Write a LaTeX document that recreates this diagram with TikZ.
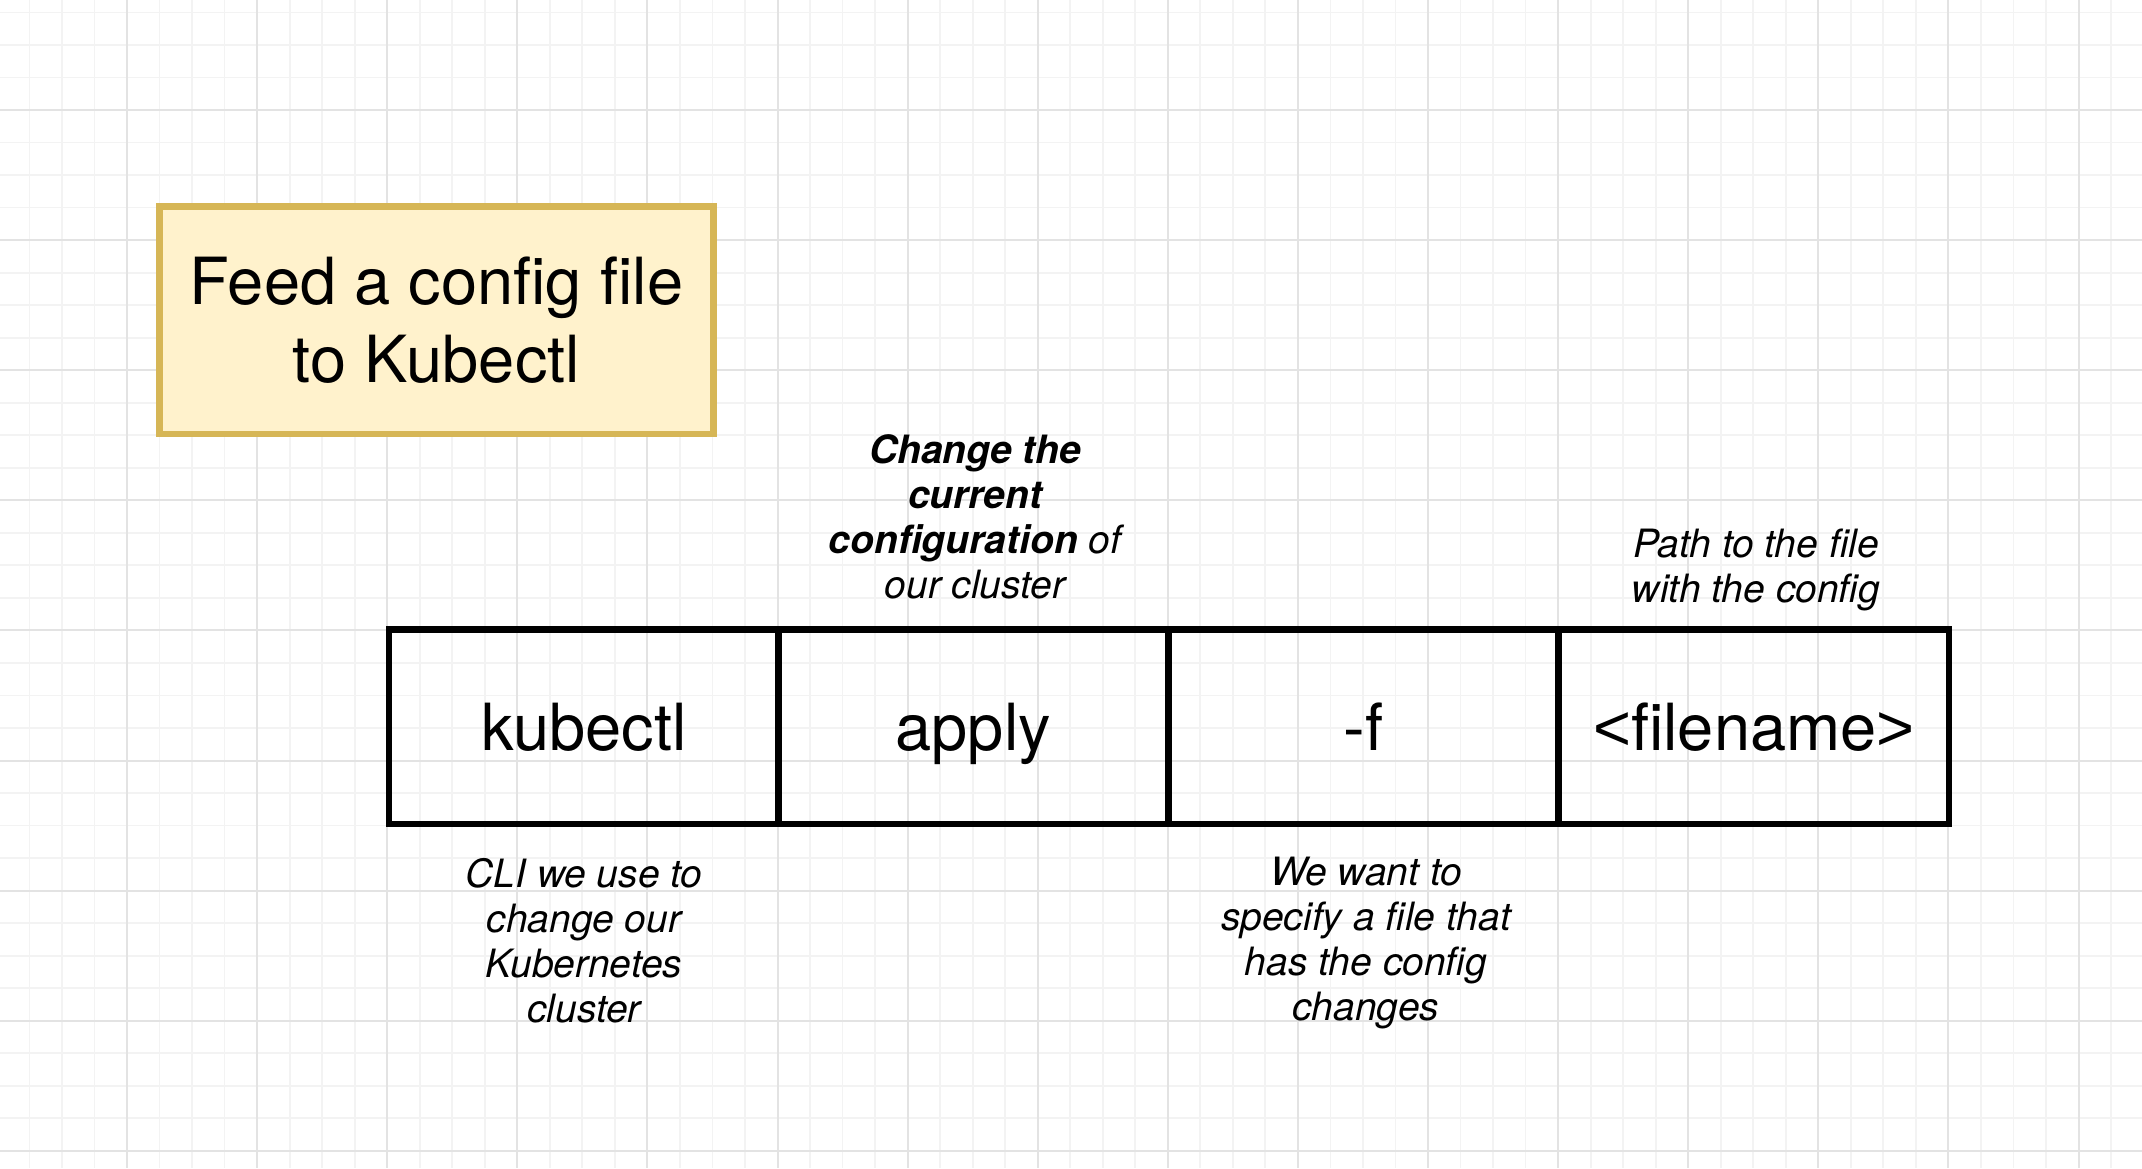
\documentclass[tikz,border=0pt]{standalone}
\usepackage{fontspec}
\setmainfont{TeX Gyre Heros}
\newfontfamily\arialfont{Liberation Sans}
\definecolor{gridminor}{HTML}{F3F3F3}
\definecolor{gridmajor}{HTML}{E3E3E3}
\definecolor{notefill}{HTML}{FFF2CC}
\definecolor{notedraw}{HTML}{D6B656}
\begin{document}
\begin{tikzpicture}[x=0.5pt,y=-0.5pt,
  minorline/.style={draw=gridminor, line width=0.9pt},
  majorline/.style={draw=gridmajor, line width=1pt},
  cmdbox/.style={draw=black, line width=3.25pt, minimum width=195.2pt,
    minimum height=97.25pt, inner sep=0pt, text height=23.7pt, text depth=0pt,
    font=\fontsize{32.5}{39}\selectfont},
  titlebox/.style={draw=notedraw, fill=notefill, line width=3.25pt,
    minimum width=277pt, minimum height=113.65pt, inner sep=0pt,
    align=center, font=\fontsize{32.5}{39}\selectfont},
  note/.style={align=center, inner sep=0pt, anchor=base,
    font=\fontsize{19.5}{22.5}\selectfont\itshape}]
\useasboundingbox (0,0) rectangle (2142,1168);
\fill[white] (0,0) rectangle (2142,1168);
\begin{scope}
\clip (0,0) rectangle (2142,1168);
\foreach \i in {0,...,66} {\draw[minorline] ({-3.1+32.525*\i},0) -- ({-3.1+32.525*\i},1168);}
\foreach \i in {0,...,36} {\draw[minorline] (0,{-20.1+32.525*\i}) -- (2142,{-20.1+32.525*\i});}
\foreach \i in {0,...,16} {\draw[majorline] ({-3.1+130.1*\i},0) -- ({-3.1+130.1*\i},1168);}
\foreach \i in {0,...,9} {\draw[majorline] (0,{-20.1+130.1*\i}) -- (2142,{-20.1+130.1*\i});}
\end{scope}

\node[titlebox] (title) at (436.5,320.35) {Feed a config file\\to Kubectl};

\node[cmdbox] (kubectl) at (584,726.75) {kubectl};
\node[cmdbox] (apply) at (973.1,726.75) {apply};
\node[cmdbox] (flag) at (1363.5,726.75) {-f};
\node[cmdbox] (file) at (1753.8,726.75) {{\arialfont<}filename{\arialfont>}};

\node[note] (applynote) at (975,598) {\textbf{Change the}\\\textbf{current}\\\textbf{configuration} of\\our cluster};
\node[note] (filenote) at (1756,602) {Path to the file\\with the config};
\node[note] (kubectlnote) at (584,1022) {CLI we use to\\change our\\Kubernetes\\cluster};
\node[note] (flagnote) at (1366,1020) {We want to\\specify a file that\\has the config\\changes};
\end{tikzpicture}
\end{document}
